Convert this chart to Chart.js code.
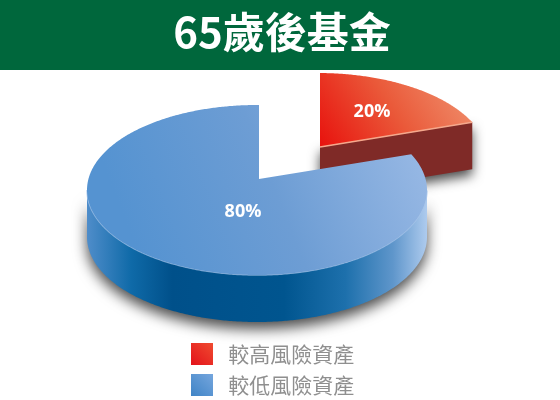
<!DOCTYPE html>
<html>
<head>
<meta charset="utf-8">
<script src="https://cdn.jsdelivr.net/npm/chart.js@4"></script>
<style>
  html, body { margin: 0; padding: 0; background: #fff; }
  canvas { display: block; }
</style>
</head>
<body>
<canvas id="pie3d" width="560" height="400"></canvas>
<script>
const chartTitle = '65歲後基金';
const categories = ['較高風險資產', '較低風險資產'];
const shares = [20, 80];

// look of the fake 3d pie
const RX = 170, RY = 85, DEPTH = 47;
const ELLIPSE = { x: 257, y: 190 };
const TIP = { x: 259, y: 179 };   // where the slices meet, off centre for the perspective
const sliceShift = [[61, -32], [0, 0]];
const labelShift = [[52, -35], [-16, 33]];
const wallStops = [
  [0, '#4f8dca'], [0.13, '#0f6aa8'], [0.25, '#00508a'], [0.58, '#00558f'],
  [0.76, '#1d70ac'], [0.9, '#5f96cb'], [1, '#aecbee']
];
const LEGEND_BOX = { left: 182, top: 334 };

// point of the rim seen from the tip, a = clockwise from the top
function rimPoint(a) {
  const vx = TIP.x - ELLIPSE.x, vy = TIP.y - ELLIPSE.y;
  const dx = Math.sin(a) * RX, dy = -Math.cos(a) * RY;
  const A = dx * dx / (RX * RX) + dy * dy / (RY * RY);
  const B = 2 * (vx * dx / (RX * RX) + vy * dy / (RY * RY));
  const C = vx * vx / (RX * RX) + vy * vy / (RY * RY) - 1;
  const t = (-B + Math.sqrt(B * B - 4 * A * C)) / (2 * A);
  return { x: TIP.x + dx * t, y: TIP.y + dy * t };
}

function rimPoints(a0, a1) {
  const pts = [];
  const n = Math.ceil((a1 - a0) / 0.01);
  for (let i = 0; i <= n; i++) {
    pts.push(rimPoint(a0 + (a1 - a0) * i / n));
  }
  return pts;
}

function polygon(ctx, pts) {
  ctx.beginPath();
  pts.forEach((p, i) => i ? ctx.lineTo(p.x, p.y) : ctx.moveTo(p.x, p.y));
  ctx.closePath();
}

function drawWall(ctx, rim) {
  const front = rim.filter(p => p.y >= ELLIPSE.y);
  if (!front.length) return;
  const down = front.map(p => ({ x: p.x, y: p.y + DEPTH })).reverse();
  const g = ctx.createLinearGradient(ELLIPSE.x - RX, 0, ELLIPSE.x + RX, 0);
  wallStops.forEach(s => g.addColorStop(s[0], s[1]));
  ctx.save();
  ctx.shadowColor = 'rgba(0,0,0,0.7)';
  ctx.shadowBlur = 14;
  ctx.shadowOffsetY = 7;
  polygon(ctx, front.concat(down));
  ctx.fillStyle = g;
  ctx.fill();
  ctx.restore();
  ctx.beginPath();
  front.forEach((p, i) => i ? ctx.lineTo(p.x, p.y) : ctx.moveTo(p.x, p.y));
  ctx.strokeStyle = 'rgba(165,197,235,0.7)';
  ctx.lineWidth = 1.5;
  ctx.stroke();
}

function drawCutFace(ctx, edge) {
  const face = [TIP, edge, { x: edge.x, y: edge.y + DEPTH }, { x: TIP.x, y: TIP.y + DEPTH }];
  ctx.save();
  ctx.shadowColor = 'rgba(0,0,0,0.7)';
  ctx.shadowBlur = 12;
  ctx.shadowOffsetY = 6;
  polygon(ctx, face);
  ctx.fillStyle = '#7f2a27';
  ctx.fill();
  ctx.restore();
}

function topGradient(ctx, i) {
  if (i === 0) {
    const g = ctx.createLinearGradient(TIP.x + 5, TIP.y + 5, TIP.x + 130, TIP.y - 75);
    g.addColorStop(0, '#e8130e');
    g.addColorStop(0.55, '#ea5a3a');
    g.addColorStop(1, '#ef8a68');
    return g;
  }
  const g = ctx.createLinearGradient(ELLIPSE.x - 120, ELLIPSE.y + 60, ELLIPSE.x + 160, ELLIPSE.y - 50);
  g.addColorStop(0, '#5593d1');
  g.addColorStop(0.5, '#6d9dd4');
  g.addColorStop(1, '#97b8e4');
  return g;
}

function legendSwatch(ctx, i) {
  const y = 343 + i * 31;
  const g = ctx.createLinearGradient(212, y, 191, y + 22);
  g.addColorStop(0, i ? '#74a5dd' : '#ef4a30');
  g.addColorStop(1, i ? '#3f84c6' : '#e3121a');
  return g;
}

const pie3d = {
  id: 'pie3d',
  beforeDraw(chart) {
    const ctx = chart.ctx;
    ctx.fillStyle = '#fff';
    ctx.fillRect(0, 0, chart.width, chart.height);
    ctx.fillStyle = '#00673c';
    ctx.fillRect(0, 0, chart.width, 70);
  },
  // the legend stacks like a side legend but sits under the pie
  afterLayout(chart) {
    const lg = chart.legend;
    const w = lg.width, h = lg.height;
    lg.left = LEGEND_BOX.left;
    lg.right = LEGEND_BOX.left + w;
    lg.top = LEGEND_BOX.top;
    lg.bottom = LEGEND_BOX.top + h;
  },
  // slices come from the arc elements of the controller, only the projection is ours
  beforeDatasetsDraw(chart) {
    const ctx = chart.ctx;
    const arcs = chart.getDatasetMeta(0).data;
    arcs.forEach((arc, i) => {
      const a0 = arc.startAngle + Math.PI / 2, a1 = arc.endAngle + Math.PI / 2;
      const rim = rimPoints(a0, a1);
      ctx.save();
      ctx.translate(sliceShift[i][0], sliceShift[i][1]);
      if (Math.sin(a1) > 0.01) drawCutFace(ctx, rim[rim.length - 1]);
      drawWall(ctx, rim);
      polygon(ctx, [TIP].concat(rim));
      ctx.fillStyle = topGradient(ctx, i);
      ctx.fill();
      if (i === 0) {
        const end = rim[rim.length - 1];
        ctx.beginPath();
        ctx.moveTo(TIP.x, TIP.y);
        ctx.lineTo(end.x, end.y);
        ctx.strokeStyle = '#f5a88c';
        ctx.lineWidth = 1.6;
        ctx.stroke();
      }
      ctx.restore();
    });
    arcs.forEach((arc, i) => {
      ctx.save();
      ctx.fillStyle = '#fff';
      ctx.font = 'bold 18px "Open Sans"';
      ctx.textAlign = 'center';
      ctx.textBaseline = 'middle';
      ctx.fillText(shares[i] + '%',
        TIP.x + sliceShift[i][0] + labelShift[i][0],
        TIP.y + sliceShift[i][1] + labelShift[i][1]);
      ctx.restore();
    });
    return false;
  }
};

new Chart(document.getElementById('pie3d'), {
  type: 'pie',
  data: {
    labels: categories,
    datasets: [{
      data: shares,
      backgroundColor: ['#e8281c', '#5b97d3'],
      borderWidth: 0
    }]
  },
  plugins: [pie3d],
  options: {
    responsive: false,
    animation: false,
    layout: { padding: { left: 4 } },
    plugins: {
      title: {
        display: true,
        text: chartTitle,
        color: '#fff',
        font: { family: '"Noto Sans CJK TC"', size: 42, weight: 'bold' },
        padding: { top: 7, bottom: 8 }
      },
      legend: {
        position: 'right',
        align: 'start',
        labels: {
          boxWidth: 22,
          boxHeight: 22,
          padding: 9,
          color: '#8f8f8f',
          font: { family: '"Noto Sans CJK TC"', size: 21 },
          generateLabels(chart) {
            return categories.map((c, i) => ({
              text: ' ' + c,
              fillStyle: legendSwatch(chart.ctx, i),
              strokeStyle: 'transparent',
              lineWidth: 0,
              fontColor: '#8f8f8f',
              index: i
            }));
          }
        }
      },
      tooltip: { enabled: false }
    }
  }
});
</script>
</body>
</html>
